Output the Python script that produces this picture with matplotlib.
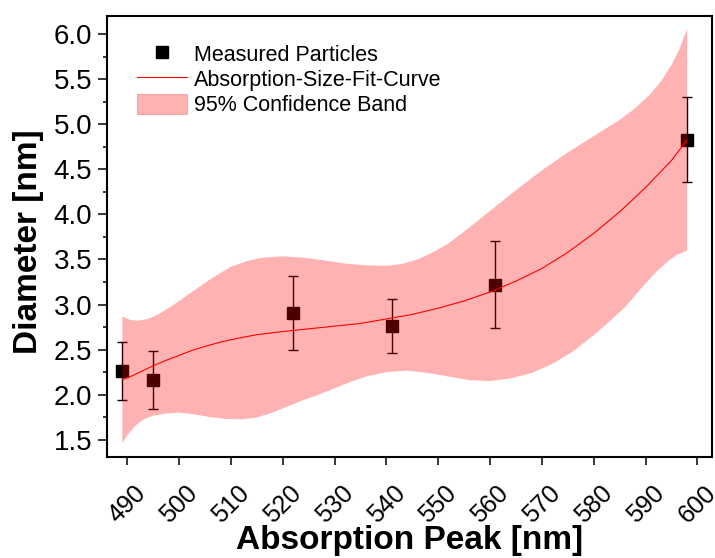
import numpy as np
import matplotlib
matplotlib.use("Agg")
import matplotlib.pyplot as plt
from matplotlib.lines import Line2D
from matplotlib.patches import Patch
from matplotlib.ticker import MultipleLocator, FormatStrFormatter

plt.rcParams['font.family'] = ['Liberation Sans', 'DejaVu Sans']

# measured particles: absorption peak [nm], diameter [nm], error
peak = [489.05, 495.0, 522.0, 541.0, 561.0, 598.0]
diameter = [2.26, 2.165, 2.91, 2.76, 3.22, 4.83]
diameter_err = [0.32, 0.32, 0.41, 0.30, 0.48, 0.475]

# fitted absorption-size curve
fit_x = [489.05, 491, 493, 495, 497.5, 500, 502.5, 505, 507.5, 510, 515, 520, 525,
         530, 535, 540, 545, 550, 555, 560, 565, 570, 575, 580, 585, 590, 595, 598]
fit_y = [2.166, 2.21, 2.265, 2.32, 2.38, 2.435, 2.49, 2.535, 2.575, 2.61, 2.665, 2.70, 2.73,
         2.76, 2.79, 2.84, 2.89, 2.96, 3.04, 3.14, 3.26, 3.40, 3.58, 3.79, 4.03, 4.30, 4.60, 4.83]

# 95% confidence band, upper edge
upper_x = [489.05, 490.5, 492, 494, 496, 498, 500, 503, 506, 510, 513, 516, 520,
           524, 528, 532, 536, 540, 543, 546, 549, 552, 555, 560, 565, 570,
           575, 580, 585, 588, 591, 593, 595, 596.5, 598]
upper_y = [2.865, 2.83, 2.82, 2.84, 2.89, 2.96, 3.04, 3.16, 3.28, 3.42, 3.48, 3.52, 3.535,
           3.52, 3.49, 3.455, 3.435, 3.43, 3.45, 3.50, 3.58, 3.68, 3.81, 4.04, 4.27, 4.49,
           4.69, 4.87, 5.05, 5.18, 5.34, 5.48, 5.66, 5.83, 6.06]

# 95% confidence band, lower edge
lower_x = [489.05, 490, 491.5, 493, 495, 497.5, 500, 503, 506, 509, 512, 515, 518,
           521, 524, 527, 530, 533, 536, 540, 544, 548, 552, 556, 560, 564, 568,
           572, 576, 580, 583, 586, 589, 592, 594.5, 596, 598]
lower_y = [1.46, 1.55, 1.65, 1.72, 1.765, 1.79, 1.80, 1.78, 1.75, 1.73, 1.725, 1.745, 1.80,
           1.87, 1.94, 2.00, 2.07, 2.14, 2.20, 2.25, 2.265, 2.24, 2.20, 2.16, 2.15, 2.18, 2.24,
           2.34, 2.48, 2.66, 2.81, 2.97, 3.17, 3.36, 3.49, 3.55, 3.60]

x_ticks = list(range(490, 601, 10))
y_ticks = [1.5, 2.0, 2.5, 3.0, 3.5, 4.0, 4.5, 5.0, 5.5, 6.0]

fig = plt.figure(figsize=(7.15, 5.58), dpi=100)
ax = fig.add_axes([0.1497, 0.181, 0.8461, 0.7903])

# data points with error bars (band is drawn over them)
ax.errorbar(peak, diameter, yerr=diameter_err, fmt='s', color='black', ms=8,
            ecolor='black', elinewidth=1, capsize=3.5, capthick=1, zorder=1)

# confidence band as a closed polygon
band_x = np.r_[upper_x, lower_x[::-1]]
band_y = np.r_[upper_y, lower_y[::-1]]
ax.fill(band_x, band_y, color='red', alpha=0.3, lw=0, zorder=2)

ax.plot(fit_x, fit_y, color='red', lw=0.8, zorder=3)

ax.set_xlim(486.1, 602.8)
ax.set_ylim(1.307, 6.203)
ax.set_xticks(x_ticks)
ax.set_yticks(y_ticks)
ax.yaxis.set_minor_locator(MultipleLocator(0.25))
ax.yaxis.set_major_formatter(FormatStrFormatter('%.1f'))

ax.tick_params(axis='x', direction='out', length=5.5, width=1.1, labelsize=18,
               pad=12, labelrotation=45)
ax.tick_params(axis='y', which='major', direction='out', length=6.5, width=1.1,
               labelsize=20, pad=4)
ax.tick_params(axis='y', which='minor', direction='out', length=3.1, width=1.1)
for s in ax.spines.values():
    s.set_linewidth(1.5)

ax.set_xlabel('Absorption Peak [nm]', fontsize=24, fontweight='bold')
ax.xaxis.set_label_coords(0.5, -0.209)
ax.xaxis.label.set_va('baseline')
ax.set_ylabel('Diameter [nm]', fontsize=24, fontweight='bold')
ax.yaxis.set_label_coords(-0.129, 0.4875)
ax.yaxis.label.set_va('center')

handles = [
    Line2D([], [], marker='s', ls='none', color='black', ms=8),
    Line2D([], [], color='red', lw=0.8),
    Patch(facecolor=(1, 0, 0, 0.3), edgecolor=(0.9, 0.45, 0.45, 0.5), lw=0.8),
]
labels = ['Measured Particles', 'Absorption-Size-Fit-Curve', '95% Confidence Band']
ax.legend(handles, labels, loc='upper left', bbox_to_anchor=(0.0496, 0.937),
          frameon=False, fontsize=15.5, borderaxespad=0, borderpad=0,
          handlelength=2.3, handleheight=1.05, handletextpad=0.33, labelspacing=0.12)

fig.savefig('out.png', dpi=100)
